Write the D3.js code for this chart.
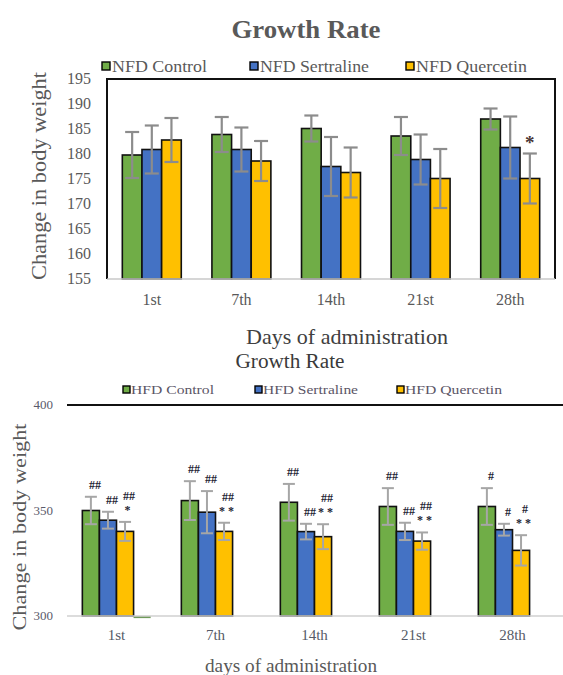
<!DOCTYPE html>
<html>
<head>
<meta charset="utf-8">
<script src="https://cdn.jsdelivr.net/npm/d3@7"></script>
<style>
  html, body { margin: 0; padding: 0; background: #fff; }
  svg { display: block; }
  text { font-family: "Liberation Serif", "Times New Roman", serif; }
</style>
</head>
<body>
<svg id="chart" width="563" height="675"></svg>
<script>
// ---- Data ----
const days = ["1st", "7th", "14th", "21st", "28th"];

// Normal-fat-diet groups (top panel)
const nfdSeries = ["NFD Control", "NFD Sertraline", "NFD Quercetin"];
const nfdControl    = [179.8, 183.9, 185.1, 183.6, 187.0];
const nfdSertraline = [180.9, 180.9, 177.5, 178.9, 181.3];
const nfdQuercetin  = [182.8, 178.6, 176.3, 175.1, 175.1];
const nfdControlErr    = [4.6, 3.5, 2.6, 3.8, 2.1];
const nfdSertralineErr = [4.8, 4.4, 5.9, 5.0, 6.2];
const nfdQuercetinErr  = [4.4, 4.0, 5.0, 5.9, 5.0];
const nfdTicks = [155, 160, 165, 170, 175, 180, 185, 190, 195];
const nfdMarks = [["", "", "", "", ""], ["", "", "", "", ""], ["", "", "", "", "*"]];

// High-fat-diet groups (bottom panel)
const hfdSeries = ["HFD Control", "HFD Sertraline", "HFD Quercetin"];
const hfdControl    = [350.0, 354.7, 353.9, 351.9, 351.9];
const hfdSertraline = [345.4, 349.2, 340.0, 340.1, 340.9];
const hfdQuercetin  = [340.1, 340.1, 337.6, 335.5, 331.1];
const hfdStub       = [299.0, null, null, null, null];
const hfdControlErr    = [6.5, 9.2, 8.7, 8.7, 8.7];
const hfdSertralineErr = [4.0, 10.0, 3.7, 4.1, 2.8];
const hfdQuercetinErr  = [4.5, 4.1, 5.9, 4.1, 7.2];
const hfdTicks = [300, 350, 400];
// significance marks, listed top line first
const hfdMarksControl    = [["##"], ["##"], ["##"], ["##"], ["#"]];
const hfdMarksSertraline = [["##"], ["##"], ["##"], ["##"], ["#"]];
const hfdMarksQuercetin  = [["##", "*"], ["##", "**"], ["##", "**"], ["##", "**"], ["#", "**"]];

const colors = ["#70AD47", "#4472C4", "#FFC000"];
const textCol = "#595959";

const svg = d3.select("#chart");

// ---- Top panel ----
{
  const left = 107, right = 555, top = 79, bottom = 279;
  const x0 = d3.scaleBand().domain(days).range([left, right]).paddingInner(0.342).paddingOuter(0.171);
  const x1 = d3.scaleBand().domain(nfdSeries).range([0, x0.bandwidth()]);
  const y = d3.scaleLinear().domain([155, 195]).range([bottom, top]);
  const vals = [nfdControl, nfdSertraline, nfdQuercetin];
  const errs = [nfdControlErr, nfdSertralineErr, nfdQuercetinErr];

  svg.append("text").attr("x", 306).attr("y", 38).attr("text-anchor", "middle")
    .attr("font-size", 25).attr("font-weight", "bold").attr("fill", textCol)
    .attr("textLength", 149).attr("lengthAdjust", "spacingAndGlyphs").text("Growth Rate");

  // legend
  const legX = [102, 250, 406], legW = [95, 109, 111];
  nfdSeries.forEach((s, i) => {
    svg.append("rect").attr("x", legX[i]).attr("y", 62).attr("width", 8).attr("height", 8)
      .attr("fill", colors[i]).attr("stroke", "#000").attr("stroke-width", 1.4);
    svg.append("text").attr("x", legX[i] + 10).attr("y", 72).attr("font-size", 17).attr("fill", textCol)
      .attr("textLength", legW[i]).attr("lengthAdjust", "spacingAndGlyphs").text(s);
  });

  // y tick labels
  svg.append("g").selectAll("text").data(nfdTicks).join("text")
    .attr("x", 91).attr("y", d => y(d) + 5).attr("text-anchor", "end")
    .attr("font-size", 16).attr("fill", textCol).text(d => d);

  // bars
  const g = svg.append("g");
  vals.forEach((arr, si) => {
    g.selectAll(null).data(arr).join("rect")
      .attr("x", (d, i) => x0(days[i]) + x1(nfdSeries[si]))
      .attr("y", d => y(d)).attr("width", x1.bandwidth()).attr("height", d => y(155) - y(d))
      .attr("fill", colors[si]).attr("stroke", "#111").attr("stroke-width", 1.6);
  });
  // error bars
  vals.forEach((arr, si) => {
    arr.forEach((v, i) => {
      const cx = x0(days[i]) + x1(nfdSeries[si]) + x1.bandwidth() / 2;
      const e = errs[si][i];
      const eg = g.append("g").attr("stroke", "#8c8c8c").attr("stroke-width", 2.2);
      eg.append("line").attr("x1", cx).attr("x2", cx).attr("y1", y(v + e)).attr("y2", y(v - e));
      eg.append("line").attr("x1", cx - 7).attr("x2", cx + 7).attr("y1", y(v + e)).attr("y2", y(v + e));
      eg.append("line").attr("x1", cx - 7).attr("x2", cx + 7).attr("y1", y(v - e)).attr("y2", y(v - e));
      const m = nfdMarks[si][i];
      if (m) {
        svg.append("text").attr("x", cx).attr("y", y(v + e) - 5).attr("text-anchor", "middle")
          .attr("font-family", "DejaVu Sans").attr("font-weight", "bold")
          .attr("font-size", 19).attr("fill", "#4a3535").text(m);
      }
    });
  });

  // frame and baseline
  svg.append("path").attr("d", `M${left},${bottom}V${top}H${right}V${bottom}`)
    .attr("fill", "none").attr("stroke", "#111").attr("stroke-width", 2);
  svg.append("line").attr("x1", left).attr("x2", right).attr("y1", bottom).attr("y2", bottom)
    .attr("stroke", "#c8c8c8").attr("stroke-width", 1.5);

  // x labels
  svg.append("g").selectAll("text").data(days).join("text")
    .attr("x", d => x0(d) + x0.bandwidth() / 2).attr("y", 305).attr("text-anchor", "middle")
    .attr("font-size", 16).attr("fill", textCol).text(d => d);

  svg.append("text").attr("transform", "translate(46,176) rotate(-90)").attr("text-anchor", "middle")
    .attr("font-size", 20).attr("fill", textCol)
    .attr("textLength", 208).attr("lengthAdjust", "spacingAndGlyphs").text("Change in body weight");

  svg.append("text").attr("x", 347).attr("y", 344).attr("text-anchor", "middle")
    .attr("font-size", 21).attr("fill", "#404040")
    .attr("textLength", 202).attr("lengthAdjust", "spacingAndGlyphs").text("Days of administration");
}

// ---- Bottom panel ----
{
  const left = 67, right = 562, top = 405, bottom = 616;
  const groups = hfdSeries.concat(["stub"]);
  const x0 = d3.scaleBand().domain(days).range([left, right]).paddingInner(0.31).paddingOuter(0.155);
  const x1 = d3.scaleBand().domain(groups).range([0, x0.bandwidth()]);
  const y = d3.scaleLinear().domain([300, 400]).range([bottom, top]);
  const vals = [hfdControl, hfdSertraline, hfdQuercetin];
  const errs = [hfdControlErr, hfdSertralineErr, hfdQuercetinErr];
  const marks = [hfdMarksControl, hfdMarksSertraline, hfdMarksQuercetin];

  svg.append("text").attr("x", 290).attr("y", 368).attr("text-anchor", "middle")
    .attr("font-size", 20).attr("fill", "#3a3a3a")
    .attr("textLength", 109).attr("lengthAdjust", "spacingAndGlyphs").text("Growth Rate");

  const legX = [123, 255, 397], legW = [87, 99, 101];
  hfdSeries.forEach((s, i) => {
    svg.append("rect").attr("x", legX[i]).attr("y", 386).attr("width", 7).attr("height", 7)
      .attr("fill", colors[i]).attr("stroke", "#000").attr("stroke-width", 1.4);
    svg.append("text").attr("x", legX[i] + 8).attr("y", 394).attr("font-size", 13).attr("fill", "#5b5566")
      .attr("textLength", legW[i] - 4).attr("lengthAdjust", "spacingAndGlyphs").text(s);
  });

  // top rule
  svg.append("line").attr("x1", left).attr("x2", 563).attr("y1", top).attr("y2", top)
    .attr("stroke", "#111").attr("stroke-width", 2);

  svg.append("g").selectAll("text").data(hfdTicks).join("text")
    .attr("x", 53).attr("y", d => y(d) + 4).attr("text-anchor", "end")
    .attr("font-size", 13).attr("fill", "#5a5a6a").text(d => d);

  const g = svg.append("g");
  vals.forEach((arr, si) => {
    g.selectAll(null).data(arr).join("rect")
      .attr("x", (d, i) => x0(days[i]) + x1(hfdSeries[si]))
      .attr("y", d => y(d)).attr("width", x1.bandwidth()).attr("height", d => y(300) - y(d))
      .attr("fill", colors[si]).attr("stroke", "#111").attr("stroke-width", 1.6);
  });
  // small stub below the baseline
  g.selectAll(null).data(hfdStub.map((v, i) => ({ v, i })).filter(d => d.v !== null)).join("rect")
    .attr("x", d => x0(days[d.i]) + x1("stub")).attr("y", y(300))
    .attr("width", x1.bandwidth()).attr("height", d => y(d.v) - y(300))
    .attr("fill", "#6f9a5a");

  svg.append("line").attr("x1", left).attr("x2", 563).attr("y1", bottom).attr("y2", bottom)
    .attr("stroke", "#d0d0d0").attr("stroke-width", 1.5);

  vals.forEach((arr, si) => {
    arr.forEach((v, i) => {
      const cx = x0(days[i]) + x1(hfdSeries[si]) + x1.bandwidth() / 2;
      const e = errs[si][i];
      const eg = g.append("g").attr("stroke", "#a6a6a6").attr("stroke-width", 2);
      eg.append("line").attr("x1", cx).attr("x2", cx).attr("y1", y(v + e)).attr("y2", y(v - e));
      eg.append("line").attr("x1", cx - 6).attr("x2", cx + 6).attr("y1", y(v + e)).attr("y2", y(v + e));
      eg.append("line").attr("x1", cx - 6).attr("x2", cx + 6).attr("y1", y(v - e)).attr("y2", y(v - e));
      const lines = marks[si][i];
      lines.slice().reverse().forEach((t, k) => {
        svg.append("text").attr("x", cx + 4).attr("y", y(v + e) - 8 - 14 * k)
          .attr("text-anchor", "middle").attr("font-family", "DejaVu Sans").attr("font-weight", "bold")
          .attr("font-size", 12).attr("letter-spacing", t.startsWith("*") ? 3 : 0)
          .attr("fill", "#1e2433").text(t);
      });
    });
  });

  svg.append("g").selectAll("text").data(days).join("text")
    .attr("x", d => x0(d) + x0.bandwidth() / 2).attr("y", 640).attr("text-anchor", "middle")
    .attr("font-size", 15).attr("fill", "#555a66").text(d => d);

  svg.append("text").attr("transform", "translate(26,527) rotate(-90)").attr("text-anchor", "middle")
    .attr("font-size", 19).attr("fill", textCol)
    .attr("textLength", 207).attr("lengthAdjust", "spacingAndGlyphs").text("Change in body weight");

  svg.append("text").attr("x", 291).attr("y", 672).attr("text-anchor", "middle")
    .attr("font-size", 19).attr("fill", textCol)
    .attr("textLength", 172).attr("lengthAdjust", "spacingAndGlyphs").text("days of administration");
}
</script>
</body>
</html>
